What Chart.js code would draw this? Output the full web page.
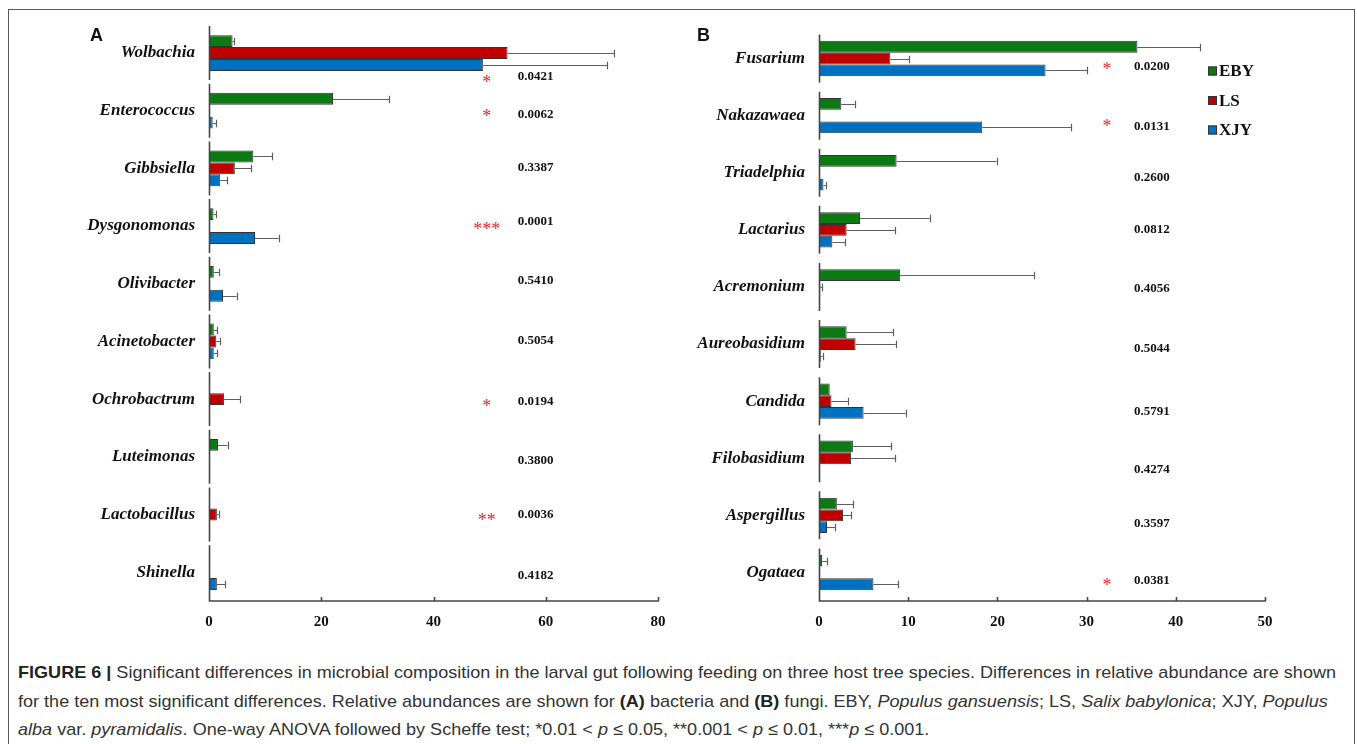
<!DOCTYPE html>
<html>
<head>
<meta charset="utf-8">
<title>Figure 6</title>
<script src="https://cdn.jsdelivr.net/npm/chart.js@4.4.1/dist/chart.umd.min.js"></script>
<style>
  html, body { margin: 0; padding: 0; background: #fff; }
  body { width: 1357px; height: 744px; position: relative; overflow: hidden; }
  #frame { position: absolute; left: 8px; top: 9px; width: 1347px; height: 745px;
           border: 1px solid #5a5a5a; border-bottom: none; box-sizing: border-box; }
  canvas { position: absolute; top: 0; }
  #chartA { left: 0; }
  #chartB { left: 600px; }
  .panel { position: absolute; font: bold 18px "Liberation Sans", Arial, sans-serif; color: #111; }
  .ln { position: absolute; left: 18px; white-space: nowrap; transform-origin: 0 50%;
        font-family: "Liberation Sans Narrow", "Liberation Sans", Arial, sans-serif;
        font-size: 17px; line-height: 20px; color: #333; }
  .ln b { color: #222; }
</style>
</head>
<body>
<div id="frame"></div>
<canvas id="chartA" width="690" height="640"></canvas>
<canvas id="chartB" width="700" height="640"></canvas>
<div class="panel" style="left:90px; top:25px;">A</div>
<div class="panel" style="left:697px; top:25px;">B</div>

<div class="ln" id="l1" style="top:663px;"><b>FIGURE 6 |</b> Significant differences in microbial composition in the larval gut following feeding on three host tree species. Differences in relative abundance are shown</div>
<div class="ln" id="l2" style="top:692px;">for the ten most significant differences. Relative abundances are shown for <b>(A)</b> bacteria and <b>(B)</b> fungi. EBY, <i>Populus gansuensis</i>; LS, <i>Salix babylonica</i>; XJY, <i>Populus</i></div>
<div class="ln" id="l3" style="top:720px;"><i>alba</i> var. <i>pyramidalis</i>. One-way ANOVA followed by Scheffe test; *0.01 &lt; <i>p</i> ≤ 0.05, **0.001 &lt; <i>p</i> ≤ 0.01, ***<i>p</i> ≤ 0.001.</div>

<script>
// ---- Series and categories ----
const seriesNames = ['EBY', 'LS', 'XJY'];

// (A) bacteria
const categoriesA = ['Wolbachia', 'Enterococcus', 'Gibbsiella', 'Dysgonomonas', 'Olivibacter',
                     'Acinetobacter', 'Ochrobactrum', 'Luteimonas', 'Lactobacillus', 'Shinella'];
const ebyA    = [4.2, 22.1, 7.9, 0.8, 0.85, 0.85, 0, 1.6, 0.1, 0];
const ebyErrA = [0.3, 10.0, 3.3, 0.45, 0.95, 0.65, 0, 1.7, 0, 0];
const lsA     = [53.2, 0.15, 4.6, 0, 0, 1.3, 2.7, 0, 1.4, 0];
const lsErrA  = [19.0, 0, 2.9, 0, 0, 0.7, 2.9, 0, 0.3, 0];
const xjyA    = [48.8, 0.66, 2.0, 8.2, 2.5, 0.85, 0, 0, 0.15, 1.4];
const xjyErrA = [22.2, 0.64, 1.2, 4.2, 2.4, 0.6, 0, 0, 0, 1.5];
const pValuesA = ['0.0421', '0.0062', '0.3387', '0.0001', '0.5410', '0.5054', '0.0194', '0.3800', '0.0036', '0.4182'];
const starsA   = ['*', '*', '', '***', '', '', '*', '', '**', ''];
const xTicksA  = [0, 20, 40, 60, 80];

// (B) fungi
const categoriesB = ['Fusarium', 'Nakazawaea', 'Triadelphia', 'Lactarius', 'Acremonium',
                     'Aureobasidium', 'Candida', 'Filobasidium', 'Aspergillus', 'Ogataea'];
const ebyB    = [35.7, 2.5, 8.7, 4.6, 9.1, 3.1, 1.2, 3.8, 2.0, 0.35];
const ebyErrB = [7.0, 1.5, 11.2, 7.8, 15.0, 5.2, 0, 4.3, 1.85, 0.6];
const lsB     = [8.0, 0, 0.1, 3.1, 0.15, 4.1, 1.4, 3.6, 2.7, 0];
const lsErrB  = [2.1, 0, 0, 5.4, 0.2, 4.5, 1.9, 4.9, 0.9, 0];
const xjyB    = [25.4, 18.3, 0.5, 1.5, 0, 0.2, 5.0, 0, 0.9, 6.1];
const xjyErrB = [4.7, 10.0, 0.25, 1.4, 0, 0.2, 4.7, 0, 0.9, 2.8];
const pValuesB = ['0.0200', '0.0131', '0.2600', '0.0812', '0.4056', '0.5044', '0.5791', '0.4274', '0.3597', '0.0381'];
const starsB   = ['*', '*', '', '', '', '', '', '', '', '*'];
const xTicksB  = [0, 10, 20, 30, 40, 50];

// ---- Styling ----
const seriesColors = ['#0b7a12', '#c00000', '#0070c0'];
const axisColor = '#454545';
const serif = '"Liberation Serif", "Times New Roman", serif';

function makeDatasets(vals, errs) {
  return seriesNames.map((name, k) => ({
    label: name,
    data: vals[k],
    errors: errs[k],
    backgroundColor: seriesColors[k],
    borderColor: '#333',
    borderWidth: 1,
    borderSkipped: false,
    categoryPercentage: 0.62,
    barPercentage: 1.0
  }));
}

// One-sided error bars at the end of each bar
const errorBars = {
  id: 'errorBars',
  afterDatasetsDraw(chart) {
    const ctx = chart.ctx, xs = chart.scales.x;
    ctx.save();
    ctx.strokeStyle = '#5e5e5e';
    ctx.lineWidth = 1.2;
    chart.data.datasets.forEach((ds, di) => {
      const meta = chart.getDatasetMeta(di);
      meta.data.forEach((bar, i) => {
        const v = ds.data[i], e = ds.errors[i];
        if (!e) return;
        const x0 = xs.getPixelForValue(v), x1 = xs.getPixelForValue(v + e);
        const y = Math.round(bar.y) + 0.5;
        const h = bar.height * 0.32;
        ctx.beginPath();
        ctx.moveTo(x0, y); ctx.lineTo(x1, y);
        ctx.moveTo(Math.round(x1) + 0.5, y - h); ctx.lineTo(Math.round(x1) + 0.5, y + h);
        ctx.stroke();
      });
    });
    ctx.restore();
  }
};

// Axis lines: broken value axis per category, and the bottom axis with inward ticks
function makeAxes(half, tickVals) {
  return {
    id: 'axes',
    afterDatasetsDraw(chart) {
      const ctx = chart.ctx, xs = chart.scales.x, ys = chart.scales.y;
      const n = chart.data.labels.length;
      const x0 = Math.round(xs.getPixelForValue(0)) + 0.5;
      const yb = chart.chartArea.bottom;
      ctx.save();
      ctx.strokeStyle = axisColor;
      ctx.lineWidth = 1.6;
      ctx.beginPath();
      for (let i = 0; i < n; i++) {
        const c = ys.getPixelForValue(i);
        ctx.moveTo(x0, c - half);
        ctx.lineTo(x0, i === n - 1 ? yb : c + half);
      }
      ctx.moveTo(x0 - 0.8, yb);
      ctx.lineTo(xs.getPixelForValue(tickVals[tickVals.length - 1]) + 0.8, yb);
      tickVals.forEach(v => {
        if (v === 0) return;
        const x = Math.round(xs.getPixelForValue(v)) + 0.5;
        ctx.moveTo(x, yb); ctx.lineTo(x, yb - 4);
      });
      ctx.stroke();
      ctx.restore();
    }
  };
}

// p-values and significance stars beside each category
function makeNotes(pVals, stars, pAt, starAt, pNudge, starNudge) {
  return {
    id: 'notes',
    afterDatasetsDraw(chart) {
      const ctx = chart.ctx, xs = chart.scales.x, ys = chart.scales.y;
      ctx.save();
      ctx.textBaseline = 'middle';
      ctx.font = 'bold 13px ' + serif;
      ctx.fillStyle = '#111';
      ctx.textAlign = 'left';
      pVals.forEach((t, i) => {
        ctx.fillText(t, xs.getPixelForValue(pAt), ys.getPixelForValue(i) + pNudge[i]);
      });
      ctx.font = '18px ' + serif;
      ctx.fillStyle = '#e0262b';
      ctx.textAlign = 'center';
      stars.forEach((s, i) => {
        if (!s) return;
        ctx.fillText(s, xs.getPixelForValue(starAt), ys.getPixelForValue(i) + starNudge[i] + 4);
      });
      ctx.restore();
    }
  };
}

// Series key drawn inside panel B
const seriesKey = {
  id: 'seriesKey',
  afterDraw(chart) {
    const ctx = chart.ctx, area = chart.chartArea;
    ctx.save();
    ctx.font = 'bold 17px ' + serif;
    ctx.textBaseline = 'middle';
    ctx.textAlign = 'left';
    chart.data.datasets.forEach((ds, k) => {
      const x = area.right - 57, y = area.top + 41 + k * 29.5;
      ctx.fillStyle = ds.backgroundColor;
      ctx.fillRect(x, y - 4.5, 9, 9);
      ctx.strokeStyle = '#333';
      ctx.lineWidth = 1;
      ctx.strokeRect(x + 0.5, y - 4, 8, 8);
      ctx.fillStyle = '#111';
      ctx.fillText(ds.label, x + 11, y + 1);
    });
    ctx.restore();
  }
};

function makeChart(id, labels, datasets, xMax, step, padding, extraPlugins) {
  return new Chart(document.getElementById(id), {
    type: 'bar',
    data: { labels, datasets },
    options: {
      indexAxis: 'y',
      responsive: false,
      animation: false,
      layout: { padding },
      plugins: { legend: { display: false }, tooltip: { enabled: false } },
      scales: {
        x: {
          min: 0, max: xMax,
          grid: { display: false, drawTicks: false },
          border: { display: false },
          ticks: { stepSize: step, padding: 12, color: '#111', font: { family: serif, size: 15, weight: 'bold' } },
          afterFit: s => { s.height = 30; }
        },
        y: {
          grid: { display: false, drawTicks: false },
          border: { display: false },
          ticks: { padding: 14, color: '#111', font: { family: serif, size: 17, weight: 'bold', style: 'italic' } },
          afterFit: s => { s.width = 200; }
        }
      }
    },
    plugins: [errorBars].concat(extraPlugins)
  });
}

makeChart('chartA', categoriesA,
  makeDatasets([ebyA, lsA, xjyA], [ebyErrA, lsErrA, xjyErrA]),
  80, 20, { left: 9, right: 32, top: 24, bottom: 9 },
  [makeAxes(27, xTicksA),
   makeNotes(pValuesA, starsA, 55, 49.5,
     [24, 4, -1, -4, -3, -1, 3, 4, 0, 3],
     [26, 3, 0, 0, 0, 0, 4, 0, 3, 0])]);

makeChart('chartB', categoriesB,
  makeDatasets([ebyB, lsB, xjyB], [ebyErrB, lsErrB, xjyErrB]),
  50, 10, { left: 19, right: 35, top: 30, bottom: 9 },
  [makeAxes(24, xTicksB),
   makeNotes(pValuesB, starsB, 35.3, 32.3,
     [8, 11, 5, 0, 2, 5, 10, 11, 8, 8],
     [8, 8, 0, 0, 0, 0, 0, 0, 0, 10]),
   seriesKey]);

// Fit the caption lines to the text block width
(function fitCaption() {
  const l1 = document.getElementById('l1');
  const w = l1.getBoundingClientRect().width;
  const k = 1318 / w;
  ['l1', 'l2', 'l3'].forEach(id => {
    document.getElementById(id).style.transform = 'scaleX(' + k.toFixed(4) + ')';
  });
})();
</script>
</body>
</html>
